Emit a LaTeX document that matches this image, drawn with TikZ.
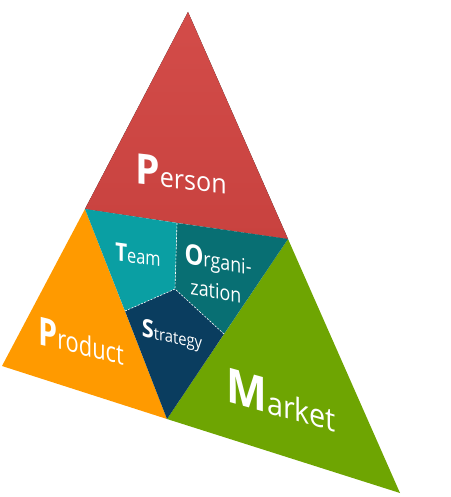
\documentclass[tikz,border=0pt]{standalone}
\usepackage{fontspec}
\setmainfont{Open Sans}
\definecolor{cPersonT}{HTML}{D34C49}
\definecolor{cPersonB}{HTML}{C8423F}
\definecolor{cProduct}{HTML}{FF9A00}
\definecolor{cMarket}{HTML}{6EA502}
\definecolor{cTeam}{HTML}{0A9FA3}
\definecolor{cOrg}{HTML}{086F73}
\definecolor{cStrat}{HTML}{0A3D5F}
\newcommand{\capword}[4]{{\fontsize{#1}{#1}\selectfont\bfseries #3}{\fontsize{#2}{#2}\selectfont #4}}
\begin{document}
\begin{tikzpicture}[x=1pt,y=-1pt,
  lbl/.style={text=white,inner sep=0pt},
  seam/.style={white,line width=0.6pt,dash pattern=on 2pt off 1.5pt}]
\useasboundingbox (0,0) rectangle (450,497);
\coordinate (top) at (188,12);
\coordinate (pl) at (85,209);
\coordinate (pr) at (288,239);
\coordinate (prl) at (2,366);
\coordinate (bot) at (167,419);
\coordinate (mr) at (400,493);
\coordinate (ctr) at (175,289);
\coordinate (sT) at (177,223);
\coordinate (sL) at (125,311);
\coordinate (sR) at (224,334);
% outer triangles
\fill[top color=cPersonT, bottom color=cPersonB] (top) -- (pr) -- (pl) -- cycle;
\fill[cProduct] (pl) -- (bot) -- (prl) -- cycle;
\fill[cMarket] (pr) -- (mr) -- (bot) -- cycle;
% inner regions
\fill[cTeam] (pl) -- (sT) -- (ctr) -- (sL) -- cycle;
\fill[cOrg] (sT) -- (pr) -- (sR) -- (ctr) -- cycle;
\fill[cStrat] (sL) -- (ctr) -- (sR) -- (bot) -- cycle;
\draw[seam] (sT) -- (ctr);
\draw[seam] (sL) -- (ctr);
\draw[seam] (sR) -- (ctr);
% labels
\node[lbl,yslant=-0.11,xscale=0.93] (person) at (181,174) {\capword{42}{27}{P}{erson}};
\node[lbl,yslant=-0.25,xscale=0.78] (product) at (81,341) {\capword{39}{28}{P}{roduct}};
\node[lbl,yslant=-0.28,xscale=0.9] (market) at (281,400) {\capword{48}{32}{M}{arket}};
\node[lbl,yslant=-0.14,xscale=0.82] (team) at (138,255) {\capword{25}{20}{T}{eam}};
\node[lbl,yslant=-0.17,xscale=0.85,align=left,font=\fontsize{21}{30}\selectfont] (org) at (218,274) {\capword{28}{21}{O}{rgani-}\\\hspace*{7pt}zation};
\node[lbl,yslant=-0.2,xscale=0.87] (strat) at (172,336) {\capword{25}{17}{S}{trategy}};
\end{tikzpicture}
\end{document}
